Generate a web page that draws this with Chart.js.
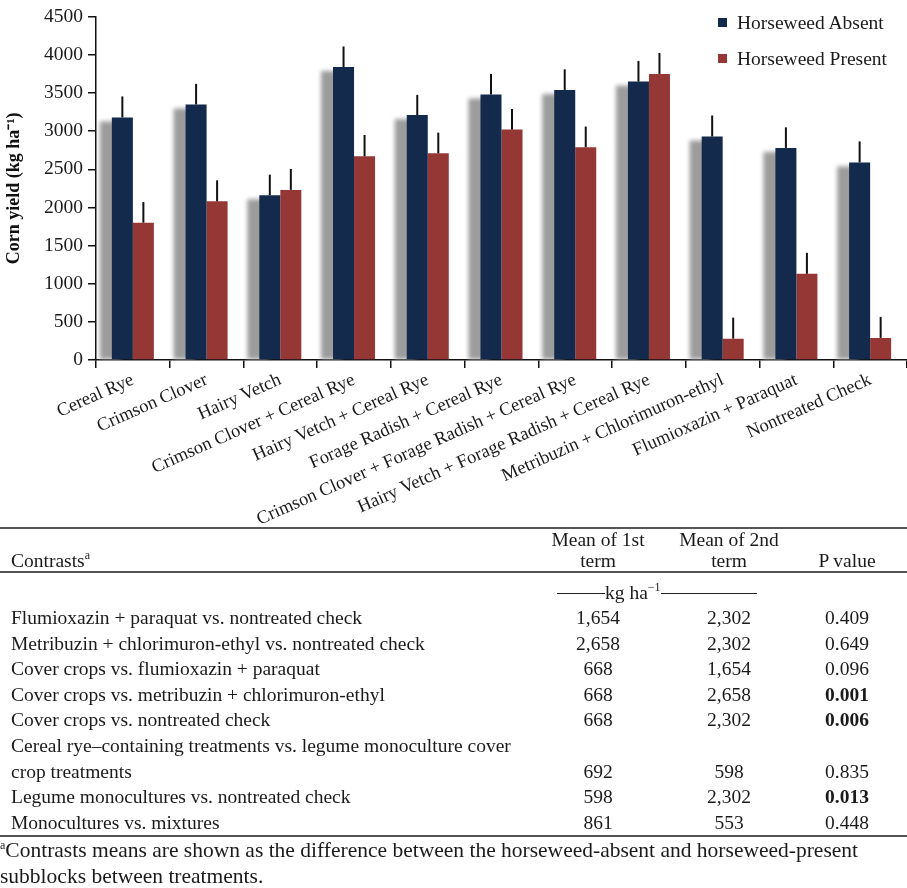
<!DOCTYPE html>
<html>
<head>
<meta charset="utf-8">
<script src="https://cdn.jsdelivr.net/npm/chart.js@4.4.1/dist/chart.umd.min.js"></script>
<style>
  body { margin: 0; background: #fff; font-family: "Liberation Serif", "Times New Roman", serif; color: #1a1a1a; }
  #wrap { position: relative; width: 907px; height: 888px; overflow: hidden; }
  #chartBox { position: absolute; left: 0; top: 0; width: 907px; height: 530px; }
  .leg { position: absolute; left: 718px; font-size: 19.5px; line-height: 20px; white-space: nowrap; }
  .leg span.sw { position: absolute; left: 0; top: 5px; width: 9px; height: 9px; }
  .leg span.tx { position: absolute; left: 19px; top: 0; }
  table { position: absolute; top: 527px; left: 0; width: 907px; border-collapse: collapse; table-layout: fixed; font-size: 19.5px; }
  th { font-weight: normal; vertical-align: bottom; line-height: 21px; padding: 0; }
  thead tr.head th { border-top: 2px solid #555; border-bottom: 2px solid #555; height: 42px; }
  td { line-height: 25.6px; padding: 0; vertical-align: bottom; text-align: center; }
  td.c1, th.c1 { text-align: left; padding-left: 11px; }
  tr.units td { height: 24px; vertical-align: middle; line-height: 20px; padding-top: 8px; }
  tr.last td { border-bottom: 2px solid #555; }
  .dash { display: inline-block; height: 1px; background: #222; vertical-align: 5px; }
  sup { font-size: 12px; vertical-align: 8px; line-height: 0; }
  #foot { position: absolute; left: 0; top: 837px; font-size: 21.5px; line-height: 26px; width: 907px; }
</style>
</head>
<body>
<div id="wrap">
  <div id="chartBox"><canvas id="grafico" width="907" height="530"></canvas></div>
  <div class="leg" style="top:13px"><span class="sw" style="background:#132a4c"></span><span class="tx">Horseweed Absent</span></div>
  <div class="leg" style="top:49px"><span class="sw" style="background:#953735"></span><span class="tx">Horseweed Present</span></div>
  <table id="tabla">
    <colgroup><col style="width:540px"><col style="width:116px"><col style="width:146px"><col style="width:105px"></colgroup>
    <thead>
      <tr class="head">
        <th class="c1">Contrasts<sup>a</sup></th>
        <th>Mean of 1st<br>term</th>
        <th>Mean of 2nd<br>term</th>
        <th style="padding-right:15px">P value</th>
      </tr>
    </thead>
    <tbody id="cuerpo">
      <tr class="units"><td></td><td colspan="2" style="text-align:left;padding-left:17px"><span class="dash" style="width:48px"></span>kg ha<sup>&minus;1</sup><span class="dash" style="width:96px"></span></td><td></td></tr>
    </tbody>
  </table>
  <div id="foot"><sup>a</sup>Contrasts means are shown as the difference between the horseweed-absent and horseweed-present subblocks between treatments.</div>
</div>
<script>
// datos del grafico
const categorias = ["Cereal Rye", "Crimson Clover", "Hairy Vetch", "Crimson Clover + Cereal Rye",
  "Hairy Vetch + Cereal Rye", "Forage Radish + Cereal Rye", "Crimson Clover + Forage Radish + Cereal Rye",
  "Hairy Vetch + Forage Radish + Cereal Rye", "Metribuzin + Chlorimuron-ethyl", "Flumioxazin + Paraquat",
  "Nontreated Check"];
const ausente = [3180, 3350, 2160, 3840, 3210, 3480, 3540, 3650, 2930, 2780, 2590];
const presente = [1800, 2080, 2230, 2670, 2710, 3020, 2790, 3750, 280, 1130, 290];
const errAusente = [275, 270, 270, 270, 265, 270, 270, 270, 275, 270, 275];
const errPresente = [270, 275, 275, 280, 270, 270, 270, 275, 275, 275, 275];

// datos de la tabla
const contrastes = ["Flumioxazin + paraquat vs. nontreated check",
  "Metribuzin + chlorimuron-ethyl vs. nontreated check",
  "Cover crops vs. flumioxazin + paraquat",
  "Cover crops vs. metribuzin + chlorimuron-ethyl",
  "Cover crops vs. nontreated check",
  "Cereal rye\u2013containing treatments vs. legume monoculture cover<br>crop treatments",
  "Legume monocultures vs. nontreated check",
  "Monocultures vs. mixtures"];
const media1 = ["1,654", "2,658", "668", "668", "668", "692", "598", "861"];
const media2 = ["2,302", "2,302", "1,654", "2,658", "2,302", "598", "2,302", "553"];
const valorP = ["0.409", "0.649", "0.096", "0.001", "0.006", "0.835", "0.013", "0.448"];
const negrita = [false, false, false, true, true, false, true, false];

const cuerpo = document.getElementById('cuerpo');
contrastes.forEach((c, i) => {
  const tr = document.createElement('tr');
  if (i === contrastes.length - 1) tr.className = 'last';
  const p = negrita[i] ? `<b>${valorP[i]}</b>` : valorP[i];
  tr.innerHTML = `<td class="c1">${c}</td><td>${media1[i]}</td><td>${media2[i]}</td><td style="padding-right:15px">${p}</td>`;
  cuerpo.appendChild(tr);
});

// sombra gris detras de las barras azules
const sombra = {
  id: 'sombra',
  beforeDatasetsDraw(chart) {
    const ctx = chart.ctx;
    const meta = chart.getDatasetMeta(0);
    ctx.save();
    ctx.beginPath();
    ctx.rect(0, 0, chart.width, chart.chartArea.bottom + 1);
    ctx.clip();
    ctx.filter = 'blur(2px)';
    ctx.fillStyle = '#9c9c9c';
    meta.data.forEach((bar) => {
      const left = bar.x - bar.width / 2 - 12;
      ctx.fillRect(left, bar.y + 4, bar.width, bar.base - bar.y - 4);
    });
    ctx.restore();
  }
};

// barras de error (solo hacia arriba)
const errores = {
  id: 'errores',
  afterDatasetsDraw(chart) {
    const ctx = chart.ctx;
    const y = chart.scales.y;
    const listas = [errAusente, errPresente];
    ctx.save();
    ctx.strokeStyle = '#111';
    ctx.lineWidth = 2;
    chart.data.datasets.forEach((ds, d) => {
      chart.getDatasetMeta(d).data.forEach((bar, i) => {
        const top = y.getPixelForValue(ds.data[i] + listas[d][i]);
        ctx.beginPath();
        ctx.moveTo(bar.x, bar.y);
        ctx.lineTo(bar.x, top);
        ctx.stroke();
      });
    });
    ctx.restore();
  }
};

const ctx = document.getElementById('grafico');
const grafico = new Chart(ctx, {
  type: 'bar',
  data: {
    labels: categorias,
    datasets: [{
      label: 'Horseweed Absent',
      data: ausente,
      backgroundColor: '#132a4c',
      borderWidth: 0
    }, {
      label: 'Horseweed Present',
      data: presente,
      backgroundColor: '#953735',
      borderWidth: 0
    }]
  },
  options: {
    responsive: false,
    animation: false,
    devicePixelRatio: 1,
    categoryPercentage: 0.57,
    barPercentage: 1.0,
    layout: { padding: { top: 10, left: 0, right: 0, bottom: 0 } },
    plugins: { legend: { display: false }, tooltip: { enabled: false } },
    scales: {
      x: {
        offset: true,
        grid: { offset: true, drawOnChartArea: false, drawTicks: true, tickLength: 8, color: '#111', lineWidth: 1.5 },
        border: { display: true, color: '#111', width: 1.5 },
        ticks: {
          minRotation: 24, maxRotation: 24, padding: 1, autoSkip: false,
          color: '#1a1a1a', font: { family: 'Liberation Serif', size: 18.5 }
        },
        afterFit(scale) { scale.height = 170; }
      },
      y: {
        min: 0, max: 4500,
        grid: { drawOnChartArea: false, drawTicks: true, tickLength: 8, color: '#111', lineWidth: 1.5 },
        border: { display: true, color: '#111', width: 1.5 },
        ticks: {
          stepSize: 500, padding: 5, color: '#1a1a1a', font: { family: 'Liberation Serif', size: 19.5 },
          callback: (v) => String(v)
        },
        title: {
          display: true, text: 'Corn yield (kg ha\u207B\u00B9)', color: '#111',
          font: { family: 'Liberation Serif', size: 18, weight: 'bold' }, padding: { top: 4, bottom: 0 }
        },
        afterFit(scale) { scale.width = 96; }
      }
    }
  },
  plugins: [sombra, errores]
});
</script>
</body>
</html>
